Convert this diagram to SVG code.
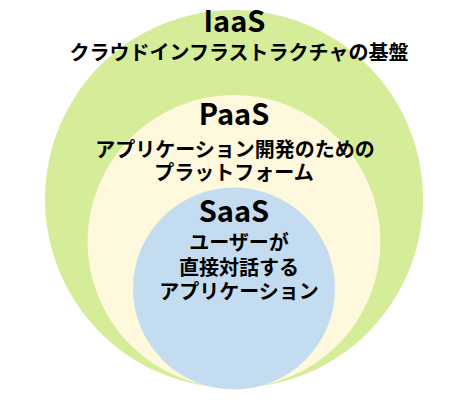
<svg xmlns="http://www.w3.org/2000/svg" width="460" height="402" viewBox="0 0 460 402">
<style>
text{font-family:"Noto Sans CJK JP","Noto Sans",sans-serif;font-weight:bold;fill:#000;text-anchor:middle}
.t{font-size:29px}
.s{font-size:20px}
</style>
<rect width="460" height="402" fill="#fff"/>
<g id="iaas">
<circle cx="234" cy="199" r="189" fill="#d5ec98"/>
<text class="t" x="234.5" y="32">IaaS</text>
<text class="s" x="239" y="60">クラウドインフラストラクチャの基盤</text>
</g>
<g id="paas">
<circle cx="234" cy="241.5" r="146.5" fill="#fef8dc"/>
<text class="t" x="234" y="125">PaaS</text>
<text class="s" x="235" y="157">アプリケーション開発のための</text>
<text class="s" x="234" y="180">プラットフォーム</text>
</g>
<g id="saas">
<circle cx="234" cy="288.5" r="101" fill="#c4dcef"/>
<text class="t" x="234" y="222">SaaS</text>
<text class="s" x="239" y="250">ユーザーが</text>
<text class="s" x="239" y="275">直接対話する</text>
<text class="s" x="239" y="299">アプリケーション</text>
</g>
<g id="connectors"/>
</svg>
